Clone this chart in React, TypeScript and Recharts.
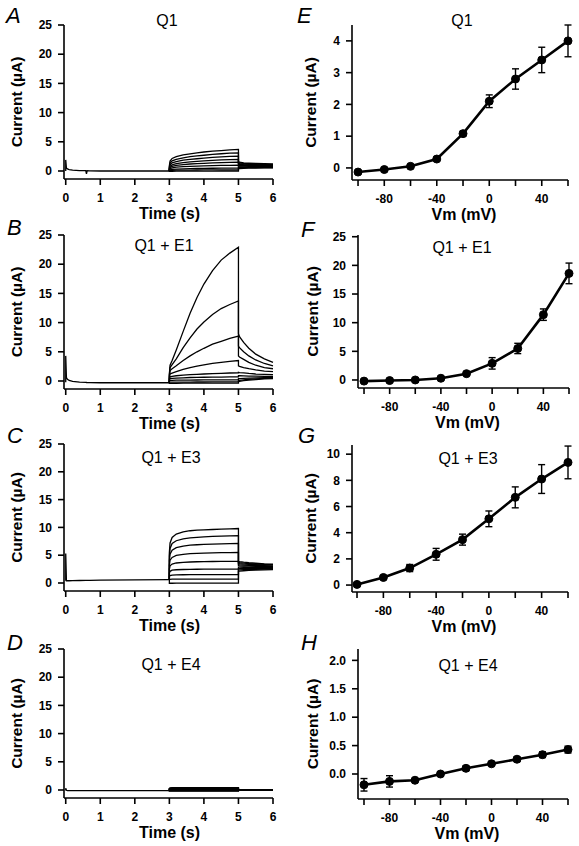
import React from 'react';
import { LineChart, Line, XAxis, YAxis, ErrorBar } from 'recharts';

const FONT = "'Liberation Sans', Arial, Helvetica, sans-serif";

// ---- I-V data (right column) ----
const vm = [-100, -80, -60, -40, -20, 0, 20, 40, 60];
const vmLabels = [-80, -40, 0, 40];

const ivQ1 = [-0.13, -0.05, 0.05, 0.28, 1.08, 2.1, 2.8, 3.4, 4.0];
const errQ1 = [0.03, 0.03, 0.03, 0.04, 0.07, 0.2, 0.32, 0.4, 0.5];

const ivE1 = [-0.2, -0.1, 0.0, 0.3, 1.1, 2.9, 5.5, 11.4, 18.6];
const errE1 = [0.1, 0.1, 0.1, 0.15, 0.3, 1.0, 0.9, 1.0, 1.8];

const ivE3 = [0.05, 0.58, 1.3, 2.35, 3.47, 5.06, 6.7, 8.1, 9.37];
const errE3 = [0.05, 0.1, 0.27, 0.45, 0.42, 0.6, 0.8, 1.1, 1.25];

const ivE4 = [-0.19, -0.13, -0.11, 0.0, 0.1, 0.18, 0.26, 0.34, 0.43];
const errE4 = [0.11, 0.1, 0.02, 0.04, 0.04, 0.03, 0.04, 0.05, 0.06];

// ---- current traces (left column) ----
const preTime = [0, 0, 0.02, 0.05, 0.1, 0.2, 0.4, 0.58, 0.6, 0.62, 0.7, 1, 2, 3];
const stepTime = [3, 3.02, 3.08, 3.2, 3.4, 3.6, 3.8, 4, 4.25, 4.5, 4.75, 5];
const tailTime = [5, 5.03, 5.15, 5.3, 5.5, 5.75, 6];

const preA = [0, 1.9, 0.5, 0.35, 0.25, 0.15, 0.08, 0.05, -0.5, 0.04, 0.03, 0, 0, 0];
const stepA = [
  [0.9, 1.7, 2.15, 2.45, 2.75, 2.95, 3.1, 3.25, 3.4, 3.5, 3.6, 3.7],
  [0.7, 1.35, 1.75, 2.0, 2.25, 2.45, 2.6, 2.7, 2.85, 2.95, 3.05, 3.1],
  [0.55, 1.05, 1.4, 1.6, 1.85, 2.0, 2.1, 2.2, 2.32, 2.42, 2.5, 2.55],
  [0.45, 0.8, 1.05, 1.25, 1.45, 1.55, 1.65, 1.75, 1.83, 1.9, 1.95, 2.0],
  [0.35, 0.6, 0.8, 0.95, 1.1, 1.2, 1.25, 1.32, 1.38, 1.43, 1.47, 1.5],
  [0.25, 0.4, 0.55, 0.65, 0.75, 0.8, 0.85, 0.88, 0.92, 0.95, 0.98, 1.0],
  [0.1, 0.2, 0.28, 0.33, 0.38, 0.41, 0.43, 0.45, 0.47, 0.48, 0.49, 0.5],
  [0.05, 0.1, 0.12, 0.14, 0.15, 0.16, 0.17, 0.18, 0.19, 0.19, 0.2, 0.2],
  [-0.05, -0.05, -0.04, -0.03, -0.03, -0.02, -0.02, -0.01, -0.01, 0, 0, 0],
];
const tailA = [
  [1.6, 1.5, 1.4, 1.35, 1.3, 1.25, 1.2],
  [1.45, 1.38, 1.3, 1.25, 1.2, 1.15, 1.1],
  [1.3, 1.25, 1.2, 1.15, 1.1, 1.05, 1.0],
  [1.15, 1.12, 1.08, 1.05, 1.0, 0.97, 0.95],
  [1.0, 0.98, 0.95, 0.92, 0.9, 0.88, 0.85],
  [0.85, 0.84, 0.82, 0.8, 0.78, 0.77, 0.75],
  [0.7, 0.7, 0.69, 0.68, 0.67, 0.66, 0.65],
  [0.55, 0.56, 0.57, 0.58, 0.58, 0.59, 0.6],
  [0.4, 0.42, 0.45, 0.48, 0.5, 0.52, 0.55],
];

const preB = [-0.2, 4.3, 0.6, 0.3, 0.1, -0.05, -0.2, -0.25, -0.26, -0.27, -0.28, -0.3, -0.3, -0.3];
const stepB = [
  [1.2, 2.7, 3.5, 5.3, 8.5, 11.6, 14.3, 16.6, 18.9, 20.7, 21.9, 22.9],
  [1.0, 2.3, 2.8, 3.8, 5.7, 7.4, 8.9, 10.1, 11.4, 12.4, 13.1, 13.7],
  [0.8, 1.8, 2.1, 2.6, 3.5, 4.3, 5.0, 5.6, 6.3, 6.8, 7.3, 7.7],
  [0.6, 1.2, 1.35, 1.6, 2.0, 2.3, 2.55, 2.75, 3.0, 3.2, 3.35, 3.5],
  [0.4, 0.7, 0.8, 0.9, 1.0, 1.1, 1.15, 1.2, 1.27, 1.32, 1.37, 1.4],
  [0.2, 0.4, 0.45, 0.5, 0.55, 0.6, 0.62, 0.64, 0.66, 0.68, 0.69, 0.7],
  [0.0, 0.1, 0.12, 0.14, 0.15, 0.16, 0.17, 0.18, 0.19, 0.2, 0.2, 0.2],
  [-0.2, -0.2, -0.19, -0.19, -0.18, -0.18, -0.17, -0.17, -0.16, -0.16, -0.15, -0.15],
  [-0.4, -0.4, -0.39, -0.39, -0.38, -0.38, -0.37, -0.37, -0.36, -0.36, -0.35, -0.35],
];
const tailB = [
  [8.1, 7.6, 6.6, 5.6, 4.6, 3.8, 3.2],
  [6.0, 5.7, 5.0, 4.3, 3.6, 3.0, 2.6],
  [4.3, 4.1, 3.7, 3.2, 2.7, 2.3, 2.1],
  [2.6, 2.5, 2.3, 2.1, 1.9, 1.7, 1.6],
  [1.5, 1.45, 1.4, 1.3, 1.2, 1.15, 1.1],
  [0.9, 0.9, 0.88, 0.85, 0.83, 0.8, 0.8],
  [0.4, 0.42, 0.45, 0.5, 0.55, 0.58, 0.6],
  [0.1, 0.12, 0.2, 0.3, 0.38, 0.45, 0.5],
  [-0.1, -0.05, 0.05, 0.15, 0.25, 0.35, 0.4],
];

const preC = [0.4, 5.3, 0.4, 0.4, 0.4, 0.42, 0.45, 0.46, 0.47, 0.47, 0.48, 0.5, 0.56, 0.6];
const stepC = [
  [5.5, 7.2, 8.2, 8.8, 9.2, 9.4, 9.5, 9.55, 9.62, 9.7, 9.75, 9.8],
  [4.8, 6.2, 7.1, 7.6, 7.95, 8.1, 8.2, 8.3, 8.37, 8.42, 8.47, 8.5],
  [4.0, 5.2, 5.9, 6.35, 6.65, 6.8, 6.88, 6.94, 7.0, 7.04, 7.07, 7.1],
  [3.2, 4.1, 4.6, 4.95, 5.15, 5.27, 5.33, 5.38, 5.42, 5.45, 5.48, 5.5],
  [2.5, 3.1, 3.4, 3.6, 3.72, 3.78, 3.82, 3.85, 3.87, 3.88, 3.89, 3.9],
  [1.8, 2.1, 2.3, 2.38, 2.43, 2.46, 2.47, 2.48, 2.49, 2.5, 2.5, 2.5],
  [1.2, 1.35, 1.42, 1.46, 1.48, 1.49, 1.5, 1.5, 1.5, 1.5, 1.5, 1.5],
  [0.6, 0.65, 0.68, 0.7, 0.7, 0.7, 0.7, 0.7, 0.7, 0.7, 0.7, 0.7],
  [-0.05, -0.05, -0.05, -0.04, -0.04, -0.04, -0.03, -0.03, -0.03, -0.03, -0.03, -0.03],
];
const tailC = [
  [3.9, 3.85, 3.75, 3.65, 3.55, 3.45, 3.4],
  [3.7, 3.65, 3.58, 3.5, 3.42, 3.35, 3.3],
  [3.5, 3.46, 3.4, 3.35, 3.28, 3.22, 3.2],
  [3.3, 3.27, 3.22, 3.18, 3.13, 3.1, 3.05],
  [3.1, 3.08, 3.05, 3.02, 2.98, 2.95, 2.92],
  [2.85, 2.84, 2.83, 2.82, 2.8, 2.78, 2.77],
  [2.6, 2.6, 2.61, 2.62, 2.63, 2.63, 2.64],
  [2.35, 2.37, 2.4, 2.44, 2.47, 2.5, 2.52],
  [2.1, 2.14, 2.2, 2.27, 2.33, 2.37, 2.4],
];

const preD = [-0.1, 0.3, -0.05, -0.1, -0.1, -0.1, -0.1, -0.1, -0.1, -0.1, -0.1, -0.1, -0.1, -0.1];
const stepD = [
  [0.3, 0.38, 0.4, 0.41, 0.42, 0.42, 0.42, 0.42, 0.42, 0.42, 0.42, 0.42],
  [0.25, 0.3, 0.32, 0.33, 0.33, 0.33, 0.33, 0.33, 0.33, 0.33, 0.33, 0.33],
  [0.2, 0.24, 0.25, 0.26, 0.26, 0.26, 0.26, 0.26, 0.26, 0.26, 0.26, 0.26],
  [0.14, 0.17, 0.18, 0.18, 0.18, 0.18, 0.18, 0.18, 0.18, 0.18, 0.18, 0.18],
  [0.08, 0.09, 0.1, 0.1, 0.1, 0.1, 0.1, 0.1, 0.1, 0.1, 0.1, 0.1],
  [0.0, 0.0, 0.0, 0.0, 0.0, 0.0, 0.0, 0.0, 0.0, 0.0, 0.0, 0.0],
  [-0.1, -0.1, -0.1, -0.1, -0.1, -0.1, -0.1, -0.1, -0.1, -0.1, -0.1, -0.1],
  [-0.12, -0.12, -0.12, -0.12, -0.12, -0.12, -0.12, -0.12, -0.12, -0.12, -0.12, -0.12],
  [-0.2, -0.2, -0.2, -0.2, -0.2, -0.2, -0.2, -0.2, -0.2, -0.2, -0.2, -0.2],
];
const tailD = [
  [0.05, 0.03, 0.02, 0.01, 0.0, 0.0, 0.0],
  [0.04, 0.03, 0.02, 0.01, 0.0, 0.0, 0.0],
  [0.03, 0.02, 0.01, 0.0, 0.0, 0.0, 0.0],
  [0.02, 0.01, 0.0, 0.0, 0.0, 0.0, 0.0],
  [0.01, 0.0, 0.0, 0.0, 0.0, 0.0, 0.0],
  [0.0, 0.0, 0.0, 0.0, 0.0, 0.0, 0.0],
  [-0.02, -0.01, 0.0, 0.0, 0.0, 0.0, 0.0],
  [-0.03, -0.02, -0.01, 0.0, 0.0, 0.0, 0.0],
  [-0.05, -0.03, -0.02, -0.01, 0.0, 0.0, 0.0],
];

const timeTicks = [0, 1, 2, 3, 4, 5, 6];
const currentTicks = [0, 5, 10, 15, 20, 25];

type Pt = { t: number; i: number };

function buildTraces(pre: number[], steps: number[][], tails: number[][]): Pt[][] {
  const base = pre[pre.length - 1];
  const preLine = preTime.map((t, k) => ({ t, i: pre[k] }));
  const sweeps = steps.map((s, n) => [
    { t: 3, i: base },
    ...stepTime.map((t, k) => ({ t, i: s[k] })),
    ...tailTime.map((t, k) => ({ t, i: tails[n][k] })),
  ]);
  return [preLine, ...sweeps];
}

const ivRows = (cur: number[], err: number[]) => vm.map((v, k) => ({ v, i: cur[k], e: err[k] }));

type Box = { x0: number; x1: number; y0: number; y1: number };

type FrameProps = {
  box: Box;
  yW: number;
  titleX: number;
  xKey: string;
  xDomain: [number, number];
  xTicks: number[];
  xFmt?: (v: number) => string;
  xTitle: string;
  xTitleDx?: number;
  yDomain: [number, number];
  yTicks: number[];
  yFmt?: (v: number) => string;
  data?: any[];
  children: React.ReactNode;
};

const tickStyle = { fontSize: 12, fontWeight: 700, fill: '#000', fontFamily: FONT };
const xTitleStyle = { fontSize: 16, fontWeight: 700, fill: '#000', fontFamily: FONT };
const yTitleStyle = { fontSize: 15.5, fontWeight: 700, fill: '#000', fontFamily: FONT, textAnchor: 'middle' as const };
const axisStroke = { stroke: '#000', strokeWidth: 1.6 };

function Frame(p: FrameProps) {
  const left = p.box.x0 - p.yW;
  const top = p.box.y0 - 8;
  const width = p.box.x1 + 12 - left;
  const height = p.box.y1 - top + 46;
  return (
    <div style={{ position: 'absolute', left, top }}>
      <LineChart width={width} height={height} data={p.data} margin={{ top: 8, right: 12, bottom: 0, left: 0 }}>
        <XAxis
          type="number"
          dataKey={p.xKey}
          domain={p.xDomain}
          ticks={p.xTicks}
          interval={0}
          tickFormatter={p.xFmt}
          height={46}
          axisLine={axisStroke}
          tickLine={axisStroke}
          tickSize={6}
          tickMargin={8}
          tick={tickStyle}
          label={{ value: p.xTitle, position: 'insideBottom', offset: 6, dx: p.xTitleDx ?? 0, style: xTitleStyle }}
        />
        <YAxis
          type="number"
          domain={p.yDomain}
          ticks={p.yTicks}
          interval={0}
          tickFormatter={p.yFmt}
          width={p.yW}
          axisLine={axisStroke}
          tickLine={axisStroke}
          tickSize={6}
          tickMargin={6}
          tick={tickStyle}
          label={{
            value: 'Current (µA)',
            angle: -90,
            position: 'insideLeft',
            offset: p.titleX - left,
            style: yTitleStyle,
          }}
        />
        {p.children}
      </LineChart>
    </div>
  );
}

function TracePanel({ box, yDomain, traces }: { box: Box; yDomain: [number, number]; traces: Pt[][] }) {
  return (
    <Frame
      box={box}
      yW={64}
      titleX={16}
      xKey="t"
      xDomain={[-0.05, 6]}
      xTicks={timeTicks}
      xTitle="Time (s)"
      xTitleDx={1}
      yDomain={yDomain}
      yTicks={currentTicks}
    >
      {traces.map((d, n) => (
        <Line key={n} data={d} dataKey="i" type="linear" stroke="#000" strokeWidth={1.3} dot={false} isAnimationActive={false} />
      ))}
    </Frame>
  );
}

function IVPanel({ box, xDomain, yDomain, yTicks, yFmt, rows, titleX }: {
  box: Box; xDomain: [number, number]; yDomain: [number, number]; yTicks: number[];
  yFmt?: (v: number) => string; rows: any[]; titleX: number;
}) {
  return (
    <Frame
      box={box}
      yW={58}
      titleX={titleX}
      xKey="v"
      xDomain={xDomain}
      xTicks={vm}
      xFmt={(v) => (vmLabels.includes(v) ? String(v) : '')}
      xTitle="Vm (mV)"
      xTitleDx={4}
      yDomain={yDomain}
      yTicks={yTicks}
      yFmt={yFmt}
      data={rows}
    >
      <Line dataKey="i" type="linear" stroke="#000" strokeWidth={2.6} dot={{ r: 4, fill: '#000', stroke: '#000', strokeWidth: 1 }} isAnimationActive={false}>
        <ErrorBar dataKey="e" direction="y" width={3.5} stroke="#000" strokeWidth={1.4} isAnimationActive={false} />
      </Line>
    </Frame>
  );
}

const letterStyle: React.CSSProperties = {
  position: 'absolute', fontSize: 22, lineHeight: '22px', fontStyle: 'italic', fontFamily: FONT, color: '#000',
};
const headStyle: React.CSSProperties = {
  position: 'absolute', width: 140, textAlign: 'center', fontSize: 16, lineHeight: '16px', fontFamily: FONT, color: '#000',
};

const letters = [
  { s: 'A', x: 6, y: 5 }, { s: 'B', x: 7, y: 217 }, { s: 'C', x: 7, y: 425 }, { s: 'D', x: 7, y: 632 },
  { s: 'E', x: 297, y: 5 }, { s: 'F', x: 301, y: 219 }, { s: 'G', x: 298, y: 425 }, { s: 'H', x: 301, y: 632 },
];
const heads = [
  { s: 'Q1', cx: 167, y: 13 }, { s: 'Q1 + E1', cx: 164, y: 238 }, { s: 'Q1 + E3', cx: 171, y: 450 }, { s: 'Q1 + E4', cx: 171, y: 657 },
  { s: 'Q1', cx: 462, y: 13 }, { s: 'Q1 + E1', cx: 462, y: 240 }, { s: 'Q1 + E3', cx: 468, y: 451 }, { s: 'Q1 + E4', cx: 468, y: 658 },
];

export default function App() {
  return (
    <div style={{ position: 'absolute', left: 0, top: 0, width: 579, height: 846, background: '#fff', fontFamily: FONT }}>
      <TracePanel box={{ x0: 64, x1: 273, y0: 25, y1: 179 }} yDomain={[-1.37, 25]} traces={buildTraces(preA, stepA, tailA)} />
      <TracePanel box={{ x0: 64, x1: 273, y0: 235, y1: 389 }} yDomain={[-1.37, 25]} traces={buildTraces(preB, stepB, tailB)} />
      <TracePanel box={{ x0: 64, x1: 273, y0: 444, y1: 591 }} yDomain={[-1.44, 25]} traces={buildTraces(preC, stepC, tailC)} />
      <TracePanel box={{ x0: 64, x1: 273, y0: 649, y1: 798 }} yDomain={[-1.42, 25]} traces={buildTraces(preD, stepD, tailD)} />

      <IVPanel box={{ x0: 352, x1: 568, y0: 25, y1: 180 }} xDomain={[-104.6, 60]} yDomain={[-0.38, 4.5]} yTicks={[0, 1, 2, 3, 4]} rows={ivRows(ivQ1, errQ1)} titleX={310.5} />
      <IVPanel box={{ x0: 358, x1: 569, y0: 235, y1: 388 }} xDomain={[-104.7, 60]} yDomain={[-1.4, 25.3]} yTicks={currentTicks} rows={ivRows(ivE1, errE1)} titleX={312} />
      <IVPanel box={{ x0: 352, x1: 568, y0: 445, y1: 592 }} xDomain={[-103.8, 60]} yDomain={[-0.53, 10.7]} yTicks={[0, 2, 4, 6, 8, 10]} rows={ivRows(ivE3, errE3)} titleX={310.5} />
      <IVPanel box={{ x0: 358, x1: 568, y0: 649, y1: 799 }} xDomain={[-104.7, 60]} yDomain={[-0.44, 2.2]} yTicks={[0, 0.5, 1, 1.5, 2]} yFmt={(v) => v.toFixed(1)} rows={ivRows(ivE4, errE4)} titleX={312} />

      {letters.map((l) => (
        <div key={l.s} style={{ ...letterStyle, left: l.x, top: l.y }}>{l.s}</div>
      ))}
      {heads.map((h, k) => (
        <div key={k} style={{ ...headStyle, left: h.cx - 70, top: h.y }}>{h.s}</div>
      ))}
    </div>
  );
}
